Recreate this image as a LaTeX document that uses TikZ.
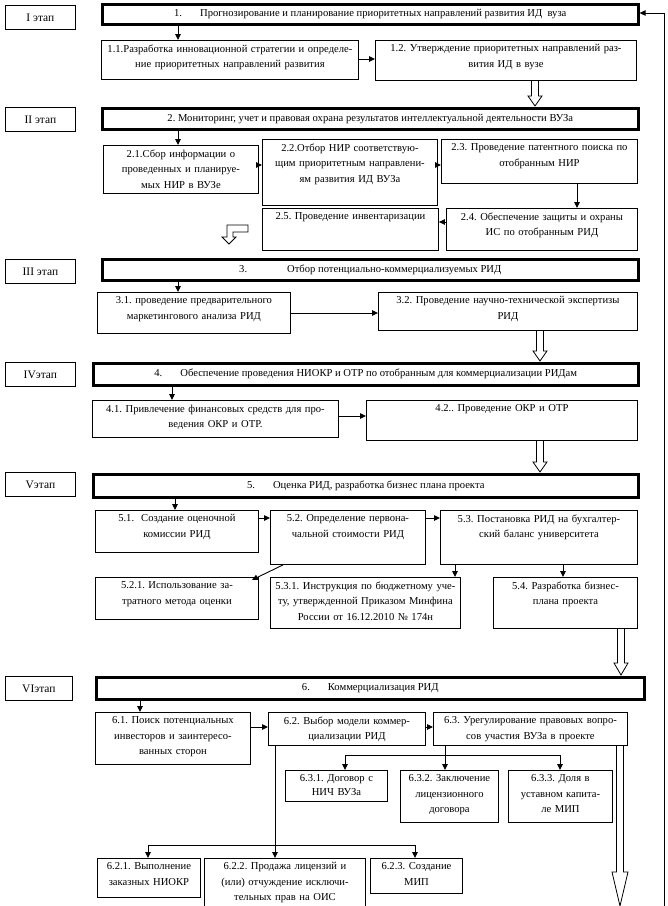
\documentclass[tikz,border=0pt]{standalone}
\usepackage{fontspec}
\setmainfont{Liberation Serif}
\usetikzlibrary{arrows.meta}
\frenchspacing
\tikzset{
 lab/.style={draw, line width=0.8pt, inner sep=0pt},
 mainbox/.style={draw, line width=2.6pt, inner sep=0pt},
 sub/.style={draw, line width=0.9pt, inner sep=0pt},
 txt/.style={inner sep=0pt, align=center, font=\fontsize{10.6}{15.5}\selectfont},
 labtxt/.style={inner sep=0pt, align=center, font=\fontsize{11.5}{14}\selectfont},
 arr/.style={line width=0.9pt, -{Triangle[length=6pt,width=5.5pt]}},
 ln/.style={line width=0.9pt},
 hol/.style={draw, line width=0.8pt, fill=white},
}
% top-aligned text box: name, x1, y1, x2, y2, style, text
\newcommand\mybox[7]{%
 \pgfmathsetmacro\bw{#4-#2}\pgfmathsetmacro\bh{#5-#3}\pgfmathsetmacro\tw{#4-#2-6}%
 \node[#6, anchor=north west, minimum width=\bw pt, minimum height=\bh pt] (#1) at (#2,-#3) {};
 \node[txt, text width=\tw pt, anchor=north] (#1t) at ([yshift=-4.5pt]#1.north) {#7};
}
% centred text box
\newcommand\mycbox[8]{%
 \pgfmathsetmacro\bw{#4-#2}\pgfmathsetmacro\bh{#5-#3}%
 \node[#6, anchor=north west, minimum width=\bw pt, minimum height=\bh pt] (#1) at (#2,-#3) {};
 \node[#7] (#1t) at (#1.center) {#8};
}
% hollow arrow: x, y1, y2, half shaft, half head, head length
\newcommand\hollow[6]{%
 \draw[hol] ({#1-#4},-#2) -- ({#1-#4},{-(#3-#6)}) -- ({#1-#5},{-(#3-#6)}) -- (#1,-#3)
   -- ({#1+#5},{-(#3-#6)}) -- ({#1+#4},{-(#3-#6)}) -- ({#1+#4},-#2);
}
\begin{document}
\begin{tikzpicture}[x=1pt,y=1pt]
\useasboundingbox (0,0) rectangle (668,-906);
% stage labels
\mycbox{s1}{5}{5}{75}{29}{lab}{labtxt}{I этап}
\mycbox{s2}{5}{107}{75}{131}{lab}{labtxt}{II этап}
\mycbox{s3}{5}{259}{75}{283}{lab}{labtxt}{III этап}
\mycbox{s4}{5}{362}{75}{386}{lab}{labtxt}{IVэтап}
\mycbox{s5}{5}{472}{75}{496}{lab}{labtxt}{Vэтап}
\mycbox{s6}{5}{676}{72}{700}{lab}{labtxt}{VIэтап}
% main boxes
\mycbox{m1}{101}{3}{637}{23}{mainbox}{txt}{1.\hspace{18pt}Прогнозирование и планирование приоритетных направлений развития ИД\ \ вуза}
\mycbox{m2}{101}{107}{637}{128}{mainbox}{txt}{2. Мониторинг, учет и правовая охрана результатов интеллектуальной деятельности ВУЗа}
\mycbox{m3}{101}{258}{637}{279}{mainbox}{txt}{3.\hspace{40pt}Отбор потенциально-коммерциализуемых РИД}
\mycbox{m4}{92}{362}{637}{384}{mainbox}{txt}{4.\hspace{18pt}Обеспечение проведения НИОКР и ОТР по отобранным для коммерциализации РИДам}
\mycbox{m5}{92}{473}{637}{496}{mainbox}{txt}{5.\hspace{18pt}Оценка РИД, разработка бизнес плана проекта}
\mycbox{m6}{95}{676}{643}{698}{mainbox}{txt}{6.\hspace{18pt}Коммерциализация РИД}
% stage I
\mybox{b11}{101}{40}{358}{79}{sub}{1.1.Разработка инновационной стратегии и определе-\\ние приоритетных направлений развития}
\mybox{b12}{375}{40}{636}{80}{sub}{1.2. Утверждение приоритетных направлений раз-\\вития ИД в вузе}
% stage II
\mybox{b21}{103}{145}{258}{193}{sub}{2.1.Сбор информации о\\проведенных и планируе-\\мых НИР в ВУЗе}
\mybox{b22}{262}{139}{437}{205}{sub}{2.2.Отбор НИР соответствую-\\щим приоритетным направлени-\\ям развития ИД ВУЗа}
\mybox{b23}{441}{139}{637}{183}{sub}{2.3. Проведение патентного поиска по\\отобранным НИР}
\mybox{b25}{262}{208}{438}{250}{sub}{2.5. Проведение инвентаризации}
\mybox{b24}{446}{208}{637}{250}{sub}{2.4. Обеспечение защиты и охраны\\ИС по отобранным РИД}
% stage III
\mybox{b31}{97}{292}{290}{333}{sub}{3.1. проведение предварительного\\маркетингового анализа РИД}
\mybox{b32}{378}{292}{637}{330}{sub}{3.2. Проведение научно-технической экспертизы\\РИД}
% stage IV
\mybox{b41}{92}{400}{338}{437}{sub}{4.1. Привлечение финансовых средств для про-\\ведения ОКР и ОТР.}
\mybox{b42}{366}{400}{637}{440}{sub}{4.2.. Проведение ОКР и ОТР}
% stage V
\mybox{b51}{95}{510}{258}{552}{sub}{5.1.\ \ Создание оценочной\\комиссии РИД}
\mybox{b52}{270}{510}{425}{564}{sub}{5.2. Определение первона-\\чальной стоимости РИД}
\mybox{b53}{440}{510}{637}{564}{sub}{5.3. Постановка РИД на бухгалтер-\\ский баланс университета}
\mybox{b521}{95}{577}{258}{619}{sub}{5.2.1. Использование за-\\тратного метода оценки}
\mybox{b531}{270}{577}{460}{628}{sub}{5.3.1. Инструкция по бюджетному уче-\\ту, утвержденной Приказом Минфина\\России от 16.12.2010 № 174н}
\mybox{b54}{493}{577}{637}{628}{sub}{5.4. Разработка бизнес-\\плана проекта}
% stage VI
\mybox{b61}{95}{712}{250}{764}{sub}{6.1. Поиск потенциальных\\инвесторов и заинтересо-\\ванных сторон}
\mybox{b62}{268}{712}{425}{745}{sub}{6.2. Выбор модели коммер-\\циализации РИД}
\mybox{b63}{433}{712}{627}{745}{sub}{6.3. Урегулирование правовых вопро-\\сов участия ВУЗа в проекте}
\mybox{b631}{285}{770}{387}{801}{sub}{6.3.1. Договор с\\[-2pt]НИЧ ВУЗа}
\mybox{b632}{400}{770}{498}{822}{sub}{6.3.2. Заключение\\лицензионного\\договора}
\mybox{b633}{508}{770}{612}{822}{sub}{6.3.3. Доля в\\уставном капита-\\ле МИП}
\mybox{b621}{97}{858}{200}{897}{sub}{6.2.1. Выполнение\\заказных НИОКР}
\mybox{b622}{204}{858}{365}{912}{sub}{6.2.2. Продажа лицензий и\\(или) отчуждение исключи-\\тельных прав на ОИС}
\mybox{b623}{370}{858}{462}{893}{sub}{6.2.3. Создание\\МИП}
% arrows stage I
\draw[arr] (m1.south -| 178,0) -- (b11.north -| 178,0);
\draw[arr] (b11.east |- 0,-59) -- (b12.west |- 0,-59);
\hollow{535}{81}{106}{3.5}{7}{10}
% stage II
\draw[arr] (m2.south -| 178,0) -- (b21.north -| 178,0);
\draw[arr] (b21.east |- 0,-165) -- (b22.west |- 0,-165);
\draw[arr] (b22.east |- 0,-165) -- (b23.west |- 0,-165);
\draw[arr] (b23.south -| 577,0) -- (b24.north -| 577,0);
\draw[arr] (b24.west |- 0,-222) -- (b25.east |- 0,-222);
\draw[hol] (248,-225) -- (227,-225) -- (227,-237) -- (222,-237) -- (229,-244) -- (236,-237) -- (233,-237) -- (233,-232) -- (248,-232) -- cycle;
% stage III
\draw[arr] (m3.south -| 178,0) -- (b31.north -| 178,0);
\draw[arr] (b31.east |- 0,-313) -- (b32.west |- 0,-313);
\hollow{540}{331}{361}{3.5}{7}{10}
% stage IV
\draw[arr] (m4.south -| 172,0) -- (b41.north -| 172,0);
\draw[arr] (b41.east |- 0,-416) -- (b42.west |- 0,-416);
\hollow{540}{441}{472}{3.5}{7}{10}
% stage V
\draw[arr] (m5.south -| 175,0) -- (b51.north -| 175,0);
\draw[arr] (b51.east |- 0,-518) -- (b52.west |- 0,-518);
\draw[arr] (b52.east |- 0,-518) -- (b53.west |- 0,-518);
\draw[arr] (b52.south -| 283,0) -- ([xshift=-7pt,yshift=-3pt]b521.north east);
\draw[arr] (b53.south -| 455,0) -- (b531.north -| 455,0);
\draw[arr] (b53.south -| 563,0) -- (b54.north -| 563,0);
\hollow{621}{629}{675}{3.5}{7}{12}
% stage VI
\draw[arr] (m6.south -| 140,0) -- (b61.north -| 140,0);
\draw[arr] (b61.east |- 0,-727) -- (b62.west |- 0,-727);
\draw[arr] (b62.east |- 0,-727) -- (b63.west |- 0,-727);
\coordinate (j63) at (445,-755);
\coordinate (j62) at (275,-845);
\draw[ln] (b63.south -| j63) -- (j63);
\draw[arr] (j63) -- (b632.north -| j63);
\draw[arr] (j63) -| (b631.north -| 345,0);
\draw[arr] (j63) -| (b633.north -| 560,0);
\draw[ln] (b62.south -| j62) -- (j62);
\draw[arr] (j62) -- (b622.north -| j62);
\draw[arr] (j62) -| (b621.north -| 148,0);
\draw[arr] (j62) -| (b623.north -| 415,0);
\hollow{620}{746}{906}{3.5}{8}{34}
% feedback line
\coordinate (fb) at (664,-906);
\draw[arr] (fb) -- (664,-13) -- (m1.east |- 0,-13);
\end{tikzpicture}
\end{document}
